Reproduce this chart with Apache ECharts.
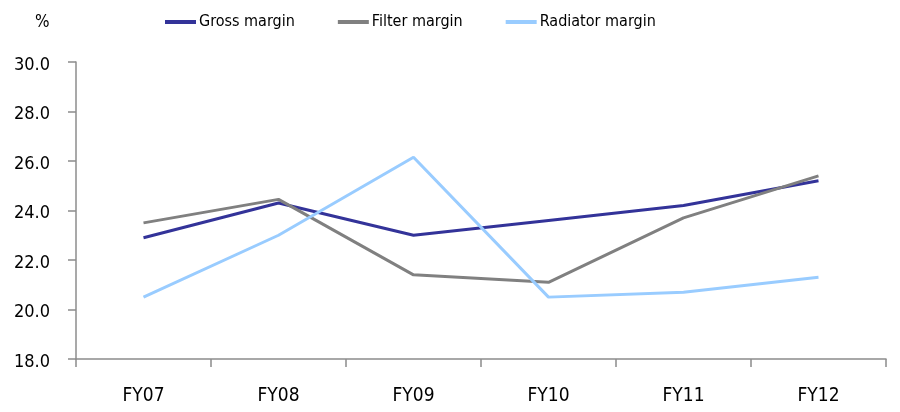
<!DOCTYPE html>
<html>
<head>
<meta charset="utf-8">
<script src="https://cdn.jsdelivr.net/npm/echarts@6/dist/echarts.min.js"></script>
<style>
  html, body { margin: 0; padding: 0; background: #ffffff; }
  #chart { width: 900px; height: 412px; }
</style>
</head>
<body>
<div id="chart"></div>
<script>
// Margin trend by fiscal year (%)
var categories = ['FY07', 'FY08', 'FY09', 'FY10', 'FY11', 'FY12'];
var grossMargin = [22.9, 24.3, 23.0, 23.6, 24.2, 25.2];
var filterMargin = [23.5, 24.45, 21.4, 21.1, 23.7, 25.4];
var radiatorMargin = [20.5, 23.0, 26.15, 20.5, 20.7, 21.3];
var yTicks = { min: 18, max: 30, step: 2 };

var FONT = '"DejaVu Sans Condensed", "DejaVu Sans", sans-serif';
var AXIS_GREY = '#8c8c8c';

var chart = echarts.init(document.getElementById('chart'), null, { renderer: 'canvas' });

function lineSeries(name, data, color) {
  return {
    name: name,
    type: 'line',
    data: data,
    symbol: 'none',
    lineStyle: { color: color, width: 3 },
    itemStyle: { color: color },
    emphasis: { disabled: true },
    animation: false
  };
}

chart.setOption({
  backgroundColor: '#ffffff',
  animation: false,
  textStyle: { fontFamily: FONT },
  grid: { left: 76, right: 14, top: 62, bottom: 53, containLabel: false },
  legend: {
    left: 160,
    top: 9,
    icon: 'rect',
    itemWidth: 31,
    itemHeight: 4,
    itemGap: 43,
    textStyle: { fontFamily: FONT, fontSize: 16, color: '#000000', padding: [0, 0, 0, -2] },
    data: ['Gross margin', 'Filter margin', 'Radiator margin']
  },
  graphic: [{
    type: 'text',
    left: 35,
    top: 14,
    style: { text: '%', font: '17px ' + FONT, fill: '#000000' }
  }],
  xAxis: {
    type: 'category',
    data: categories,
    boundaryGap: true,
    axisLine: { lineStyle: { color: AXIS_GREY, width: 1.5 } },
    axisTick: { show: true, length: 8, lineStyle: { color: AXIS_GREY, width: 1.5 } },
    axisLabel: { color: '#000000', fontSize: 19, fontFamily: FONT, margin: 28 },
    splitLine: { show: false }
  },
  yAxis: {
    type: 'value',
    min: yTicks.min,
    max: yTicks.max,
    interval: yTicks.step,
    axisLine: { show: true, lineStyle: { color: AXIS_GREY, width: 1.5 } },
    axisTick: { show: true, length: 8, lineStyle: { color: AXIS_GREY, width: 1.5 } },
    axisLabel: {
      color: '#000000', fontSize: 18, fontFamily: FONT, margin: 26,
      formatter: function (v) { return '{v|' + v.toFixed(1) + '}'; },
      rich: {
        v: { fontSize: 18, fontFamily: FONT, color: '#000000', padding: [6, 0, 0, 0] }
      }
    },
    splitLine: { show: false }
  },
  series: [
    lineSeries('Gross margin', grossMargin, '#333399'),
    lineSeries('Filter margin', filterMargin, '#808080'),
    lineSeries('Radiator margin', radiatorMargin, '#99ccff')
  ]
});
</script>
</body>
</html>
